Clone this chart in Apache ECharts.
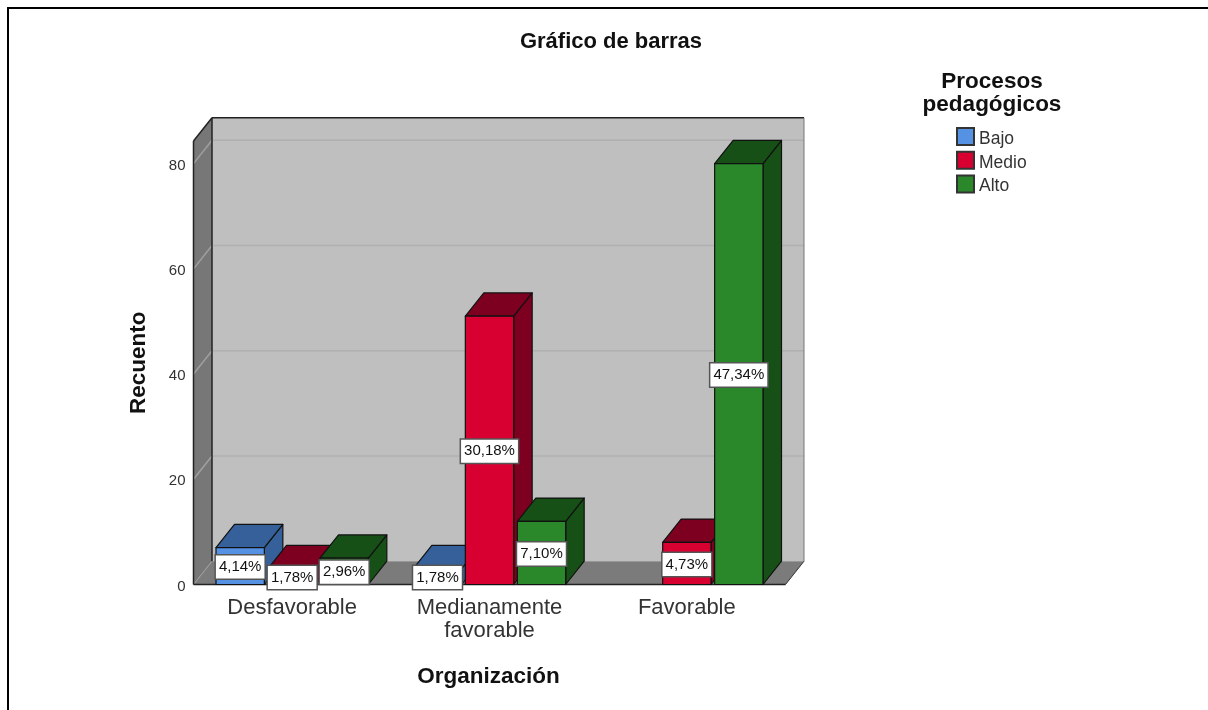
<!DOCTYPE html>
<html>
<head>
<meta charset="utf-8">
<title>Gráfico de barras</title>
<script src="https://cdn.jsdelivr.net/npm/echarts@6/dist/echarts.min.js"></script>
<style>
  html, body { margin: 0; padding: 0; background: #fff; }
  #main { width: 1208px; height: 710px; }
</style>
</head>
<body>
<div id="main"></div>
<script>
const categories = ["Desfavorable", "Medianamente\nfavorable", "Favorable"];
const bajo = [7, 3, 0];
const medio = [3, 51, 8];
const alto = [5, 12, 80];
const bajoPct = ["4,14%", "1,78%", ""];
const medioPct = ["1,78%", "30,18%", "4,73%"];
const altoPct = ["2,96%", "7,10%", "47,34%"];
const yTicks = [0, 20, 40, 60, 80];

const font = "Liberation Sans";
const depthX = 18.5;
const depthY = -23.3;
const bandShare = 0.2635; // distance between bars in a group, as part of the band
const barShare = 0.245;

const chart = echarts.init(document.getElementById("main"));

// walls and floor of the 3d box, behind everything
const renderBox = (params, api) => {
  const cs = params.coordSys;
  const left = cs.x, right = cs.x + cs.width, top = cs.y, bottom = cs.y + cs.height;
  const poly = (points, fill, stroke) => ({
    type: "polygon",
    shape: { points },
    style: { fill, stroke: stroke || "none", lineWidth: 1 },
  });
  const line = (a, b, stroke, lineWidth) => ({
    type: "line",
    shape: { x1: a[0], y1: a[1], x2: b[0], y2: b[1] },
    style: { stroke, lineWidth: lineWidth || 1 },
  });
  const children = [
    poly([[left + depthX, top + depthY], [right + depthX, top + depthY], [right + depthX, bottom + depthY], [left + depthX, bottom + depthY]], "#bfbfbf"),
    poly([[left, top], [left + depthX, top + depthY], [left + depthX, bottom + depthY], [left, bottom]], "#777777"),
    poly([[left, bottom], [left + depthX, bottom + depthY], [right + depthX, bottom + depthY], [right, bottom]], "#7b7b7b"),
  ];
  yTicks.filter((t) => t > 0).forEach((t) => {
    const y = api.coord([0, t])[1];
    children.push(line([left, y], [left + depthX, y + depthY], "#a0a0a0", 1.5));
    children.push(line([left + depthX, y + depthY], [right + depthX, y + depthY], "#b0b0b0", 1.5));
  });
  children.push(line([left, bottom], [left + depthX, bottom + depthY], "#a0a0a0", 1));
  children.push(line([left, top], [left + depthX, top + depthY], "#222", 1.5));
  children.push(line([left + depthX, top + depthY], [right + depthX, top + depthY], "#222", 1.5));
  children.push(line([left + depthX, top + depthY], [left + depthX, bottom + depthY], "#222", 1.5));
  children.push(line([right + depthX, top + depthY], [right + depthX, bottom + depthY], "#777", 1));
  children.push(line([right, bottom], [right + depthX, bottom + depthY], "#333", 1));
  children.push(line([left, top], [left, bottom], "#222", 1.5));
  children.push(line([left, bottom], [right, bottom], "#222", 1.5));
  return { type: "group", children };
};

const barPos = (api, slot) => {
  const cat = api.value(0);
  const val = api.value(1);
  const p0 = api.coord([cat, 0]);
  const p1 = api.coord([cat, val]);
  const band = api.size([1, 0])[0];
  const cx = p0[0] + (slot - 1) * band * bandShare;
  return { cx, x0: cx - band * barShare / 2, x1: cx + band * barShare / 2, y0: p0[1], y1: p1[1] };
};

const render3d = (slot, front, dark) => (params, api) => {
  if (api.value(1) === 0) return null;
  const b = barPos(api, slot);
  const edge = { stroke: "#111", lineWidth: 1.2, lineJoin: "round" };
  return {
    type: "group",
    children: [
      { type: "polygon", shape: { points: [[b.x1, b.y1], [b.x1 + depthX, b.y1 + depthY], [b.x1 + depthX, b.y0 + depthY], [b.x1, b.y0]] }, style: { fill: dark, ...edge } },
      { type: "polygon", shape: { points: [[b.x0, b.y1], [b.x0 + depthX, b.y1 + depthY], [b.x1 + depthX, b.y1 + depthY], [b.x1, b.y1]] }, style: { fill: dark, ...edge } },
      { type: "rect", shape: { x: b.x0, y: b.y1, width: b.x1 - b.x0, height: b.y0 - b.y1 }, style: { fill: front, ...edge } },
    ],
  };
};

const renderLabel = (slot, labels) => (params, api) => {
  const text = labels[params.dataIndex];
  if (!text) return null;
  const b = barPos(api, slot);
  return {
    type: "text",
    style: {
      x: b.cx,
      y: (b.y0 + b.y1) / 2 + 1,
      text,
      align: "center",
      verticalAlign: "middle",
      font: "15px '" + font + "'",
      fill: "#111",
      backgroundColor: "#fff",
      borderColor: "#555",
      borderWidth: 1.5,
      padding: [4, 3, 4, 3],
    },
  };
};

const pairs = (values) => values.map((v, i) => [i, v]);

const barSeries = (name, values, slot, front, dark) => ({
  name,
  type: "custom",
  z: 3,
  itemStyle: { color: front, borderColor: "#333", borderWidth: 1.5 },
  encode: { x: 0, y: 1 },
  data: pairs(values),
  renderItem: render3d(slot, front, dark),
});

const labelSeries = (values, labels, slot) => ({
  type: "custom",
  z: 5,
  encode: { x: 0, y: 1 },
  data: pairs(values),
  renderItem: renderLabel(slot, labels),
});

const option = {
  animation: false,
  backgroundColor: "#fff",
  textStyle: { fontFamily: font },
  title: [
    {
      text: "Gráfico de barras",
      left: 606,
      top: 26,
      textAlign: "center",
      textStyle: { fontFamily: font, fontSize: 22, fontWeight: "bold", color: "#111" },
    },
    {
      text: "Procesos\npedagógicos",
      left: 987,
      top: 65,
      textAlign: "center",
      textStyle: { fontFamily: font, fontSize: 22.5, fontWeight: "bold", color: "#111", lineHeight: 23 },
    },
  ],
  legend: {
    left: 951,
    top: 122,
    orient: "vertical",
    icon: "rect",
    itemWidth: 17,
    itemHeight: 17,
    itemGap: 2.8,
    selectedMode: false,
    data: ["Bajo", "Medio", "Alto"],
    formatter: "{t|{name}}",
    textStyle: {
      fontFamily: font,
      color: "#333",
      rich: { t: { fontFamily: font, fontSize: 17.5, color: "#333", padding: [5, 0, 0, 0] } },
    },
  },
  grid: { left: 193.5, top: 141, width: 592, height: 443.5 },
  xAxis: {
    type: "category",
    data: categories,
    name: "Organización",
    nameLocation: "middle",
    nameGap: 81,
    nameTextStyle: { fontFamily: font, fontSize: 22.5, fontWeight: "bold", color: "#111", padding: [0, 2, 0, 0] },
    axisLine: { show: false },
    axisTick: { show: false },
    axisLabel: { fontFamily: font, fontSize: 22, color: "#333", lineHeight: 23, margin: 12 },
  },
  yAxis: {
    type: "value",
    min: 0,
    max: 84.3,
    interval: 20,
    name: "Recuento",
    nameLocation: "middle",
    nameGap: 43,
    nameTextStyle: { fontFamily: font, fontSize: 22.5, fontWeight: "bold", color: "#111" },
    axisLine: { show: false },
    axisTick: { show: false },
    splitLine: { show: false },
    axisLabel: {
      margin: 8,
      showMaxLabel: false,
      formatter: "{v|{value}}",
      rich: { v: { fontFamily: font, fontSize: 15, color: "#333", padding: [4, 0, 0, 0] } },
    },
  },
  graphic: [
    {
      type: "rect",
      silent: true,
      shape: { x: 8, y: 8, width: 1300, height: 800 },
      style: { fill: "none", stroke: "#000", lineWidth: 2 },
    },
  ],
  series: [
    {
      type: "custom",
      z: 1,
      silent: true,
      data: [[0, 0]],
      encode: { x: 0, y: 1 },
      renderItem: renderBox,
    },
    barSeries("Bajo", bajo, 0, "#5592e4", "#35609a"),
    barSeries("Medio", medio, 1, "#d80030", "#7e0020"),
    barSeries("Alto", alto, 2, "#2a872a", "#175017"),
    labelSeries(bajo, bajoPct, 0),
    labelSeries(medio, medioPct, 1),
    labelSeries(alto, altoPct, 2),
  ],
};

chart.setOption(option);
</script>
</body>
</html>
